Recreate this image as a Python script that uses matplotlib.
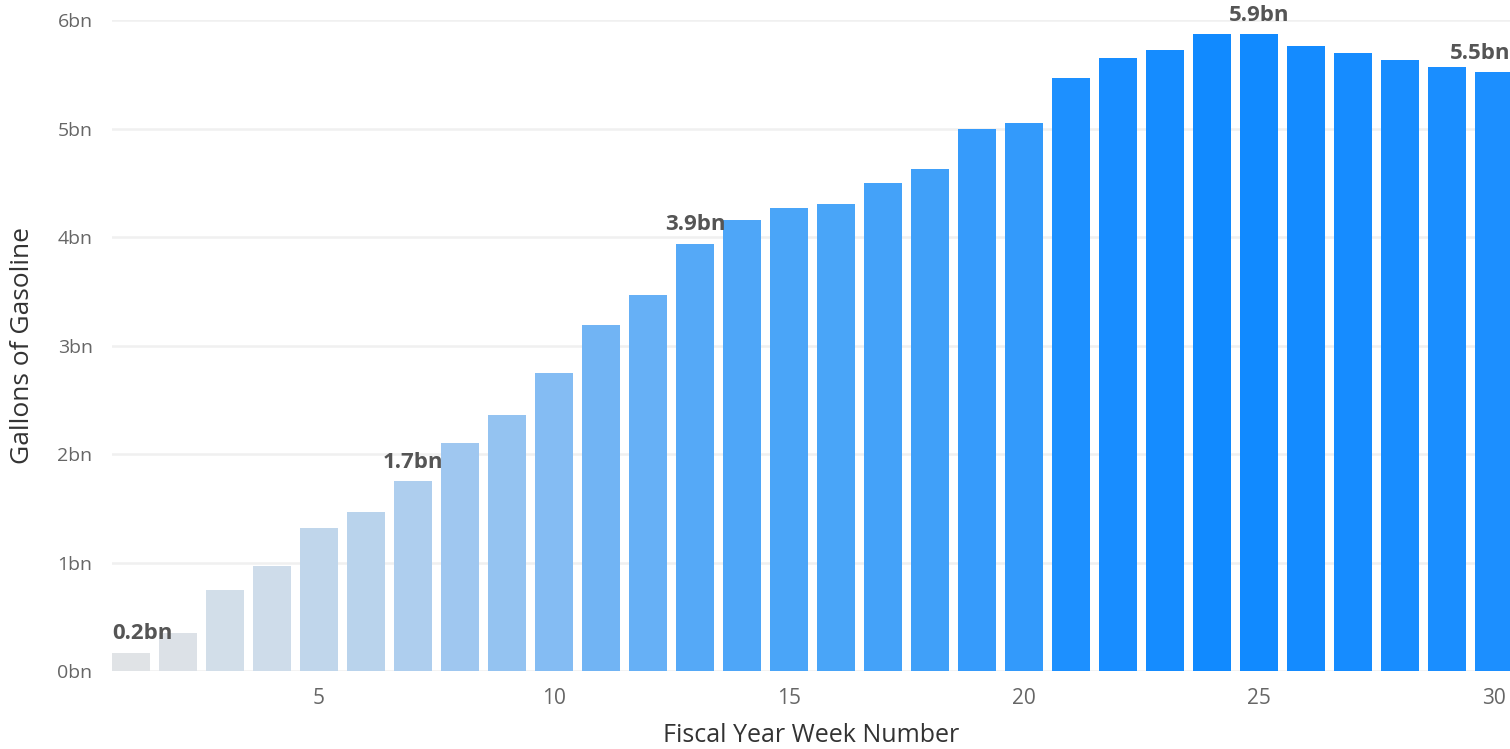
import numpy as np
import matplotlib.pyplot as plt
from matplotlib.colors import LinearSegmentedColormap

weeks = np.arange(1, 31)
gallons_bn = [0.17, 0.35, 0.75, 0.97, 1.32, 1.47, 1.75, 2.10, 2.36, 2.75,
              3.19, 3.47, 3.94, 4.16, 4.27, 4.30, 4.50, 4.63, 5.00, 5.05,
              5.47, 5.65, 5.72, 5.87, 5.87, 5.76, 5.70, 5.63, 5.57, 5.52]
labeled_weeks = [1, 7, 13, 25, 30]
label_texts = ['0.2bn', '1.7bn', '3.9bn', '5.9bn', '5.5bn']
y_ticks = [0, 1, 2, 3, 4, 5, 6]
y_tick_labels = ['0bn', '1bn', '2bn', '3bn', '4bn', '5bn', '6bn']
x_ticks = [5, 10, 15, 20, 25, 30]

plt.rcParams['font.family'] = ['Open Sans', 'DejaVu Sans']

# gray -> blue, driven by the bar value
cmap = LinearSegmentedColormap.from_list('gas', [
    (0.00, '#e0e3e6'),
    (0.15, '#ccdbea'),
    (0.35, '#9cc6f0'),
    (0.55, '#6cb2f5'),
    (0.72, '#4aa5f8'),
    (0.85, '#369bfb'),
    (0.93, '#1e90ff'),
    (1.00, '#118aff'),
])
vals = np.array(gallons_bn)
norm = (vals - vals.min()) / (vals.max() - vals.min())
colors = cmap(norm)

fig = plt.figure(figsize=(15.10, 7.49), dpi=100)
ax = fig.add_axes([0.0742, 0.1041, 0.9258, 0.8692])

ax.bar(weeks, gallons_bn, width=0.81, color=colors, zorder=2)

ax.set_xlim(0.596, 30.34)
ax.set_ylim(0, 6)
ax.set_yticks(y_ticks)
ax.set_yticklabels(y_tick_labels)
ax.set_xticks(x_ticks)

ax.grid(axis='y', color='#f0f0f0', linewidth=1.8, zorder=0)
ax.grid(axis='x', visible=False)
for s in ax.spines.values():
    s.set_visible(False)
ax.tick_params(axis='both', length=0, colors='#666666')
ax.tick_params(axis='y', labelsize=14, pad=14)
ax.tick_params(axis='x', labelsize=15, pad=12)

ax.set_xlabel('Fiscal Year Week Number', fontsize=18, color='#333333', labelpad=10)
ax.set_ylabel('Gallons of Gasoline', fontsize=19, color='#333333', labelpad=16)

xmin, xmax = ax.get_xlim()
for wk, txt in zip(labeled_weeks, label_texts):
    h = gallons_bn[wk - 1]
    if wk == weeks[0]:
        x, ha = xmin, 'left'
    elif wk == weeks[-1]:
        x, ha = xmax, 'right'
    else:
        x, ha = wk, 'center'
    ax.annotate(txt, (x, h), xytext=(0, 6), textcoords='offset points',
                ha=ha, va='bottom', fontsize=16, fontweight='bold',
                color='#555555', annotation_clip=False)

fig.savefig('out.png', dpi=100)
